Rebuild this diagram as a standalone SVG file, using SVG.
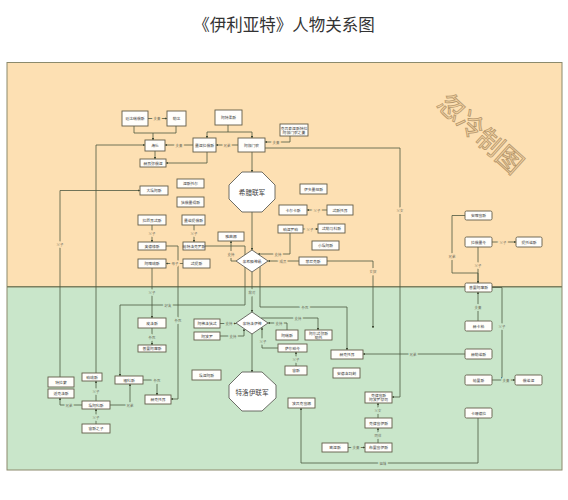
<svg xmlns="http://www.w3.org/2000/svg" width="568" height="500" viewBox="0 0 568 500">
<style>
.n rect{fill:#fffefb;stroke:#625c48;stroke-width:.9}
.n text,.hub text{font-family:"Noto Sans CJK SC","Noto Sans",sans-serif;font-size:3.8px;fill:#3a3a3a;text-anchor:middle;dominant-baseline:central}
.hub polygon{fill:#fff;stroke:#5f5f58;stroke-width:.9}
.big text{font-size:6.6px;fill:#444}
.c path{fill:none;stroke:#4c5840;stroke-width:.8;marker-end:url(#a)}
.c path.na{marker-end:none}
.lb text{font-family:"Noto Sans CJK SC",sans-serif;font-size:3.4px;fill:#6b6b5a;text-anchor:middle;dominant-baseline:central;paint-order:stroke;stroke-width:3px}
.lb .o{stroke:#fde0b3}.lb .g{stroke:#c9e6ca}
</style>
<defs>
<marker id="a" viewBox="0 0 6 6" refX="5.5" refY="3" markerWidth="3.2" markerHeight="3.2" orient="auto"><path d="M0,0 L6,3 L0,6 z" fill="#3f4a35"/></marker>
</defs>
<rect width="568" height="500" fill="#ffffff"/>
<text x="284" y="31" font-family="'Noto Sans CJK SC',sans-serif" font-size="16.5" fill="#333" text-anchor="middle">《伊利亚特》人物关系图</text>
<rect x="7" y="62.5" width="555" height="224" fill="#fde0b3"/>
<rect x="7" y="286.5" width="555" height="183.5" fill="#c9e6ca"/>
<rect x="7" y="62.5" width="555" height="407.5" fill="none" stroke="#8c8a6c" stroke-width="1"/>
<line x1="7" y1="286.7" x2="562" y2="286.7" stroke="#7d7f5e" stroke-width="1.5"/>
<text transform="translate(482,132) rotate(42)" font-family="'Noto Sans CJK SC',sans-serif" font-size="26" text-anchor="middle" dominant-baseline="central" fill="#f4d3a1" stroke="#b4966c" stroke-width=".8">忽冷制图</text>

<g id="connectors" class="c">
<path d="M148,118.5 H167"/>
<path d="M134,126 V133 H153 V140"/>
<path class="na" d="M176,126 V133 H153"/>
<path d="M193,145 H165"/>
<path d="M238,145 H216"/>
<path d="M228,125 V132 H207 V138"/>
<path d="M228,132 H252 V138"/>
<path d="M290,136 V142 H265"/>
<path d="M155,151 V159"/>
<path d="M207,152 V163 H166"/>
<path d="M252,152 V172"/>
<path d="M265,148 H400 V397 H392"/>
<path d="M96,373 V145 H145"/>
<path d="M60,377 V190.5 H140"/>
<path d="M152,225 V242"/>
<path d="M194,225 V242"/>
<path d="M183,263.5 H166"/>
<path d="M152,268 V318"/>
<path d="M152,328 V345"/>
<path d="M205,246 H245 V305 H120 V376"/>
<path d="M166,246 H178 V399 H171"/>
<path d="M143,380 H157 V395"/>
<path d="M252,212 V250"/>
<path d="M236,261 H231 V241"/>
<path d="M299,261 H268"/>
<path d="M327,261 H373 V328"/>
<path d="M290,233 V254 H258"/>
<path d="M303,229 H318"/>
<path d="M327,210 H307"/>
<path d="M252,272 V312"/>
<path d="M260,266 V307 H347 V350"/>
<path d="M261,318 H318 V330"/>
<path d="M287,330 V323 H268"/>
<path d="M278,348 H262 V327.5"/>
<path d="M220,323.5 H236"/>
<path d="M220,336 H244 V329"/>
<path d="M252,334 V372"/>
<path d="M296,366 V352"/>
<path d="M465,354 H363"/>
<path d="M378,418 V403"/>
<path d="M378,443 V428"/>
<path d="M348,447.5 H365"/>
<path d="M478,418 V463 H301 V408"/>
<path d="M96,401 V381"/>
<path d="M96,424 V409"/>
<path d="M82,405 H60 V398"/>
<path d="M110,405 H130 V384"/>
<path d="M465,215.5 H452 V273 H478 V283"/>
<path d="M492,242 H516"/>
<path d="M478,247 V283"/>
<path d="M478,321 V292"/>
<path d="M492,287.5 H502 V379"/>
<path d="M492,380 H515"/>
</g>

<g id="labels" class="lb">
<text class="o" x="157" y="118.5">夫妻</text>
<text class="o" x="179" y="145">夫妻</text>
<text class="o" x="227" y="145">兄弟</text>
<text class="o" x="276" y="142">夫妻</text>
<text class="o" x="400" y="210">父女</text>
<text class="o" x="60" y="244">父子</text>
<text class="o" x="152" y="233">父子</text>
<text class="o" x="194" y="233">父子</text>
<text class="o" x="175" y="263.5">母子</text>
<text class="o" x="231" y="254">支持</text>
<text class="o" x="283" y="261">成员</text>
<text class="o" x="373" y="271">女奴</text>
<text class="o" x="278" y="254">支持</text>
<text class="o" x="310" y="229">父子</text>
<text class="o" x="317" y="210">父子</text>
<text class="g" x="252" y="292">敌对</text>
<text class="g" x="168" y="305">好友</text>
<text class="g" x="178" y="320">杀死</text>
<text class="g" x="152" y="292">父子</text>
<text class="g" x="152" y="337">杀死</text>
<text class="g" x="157" y="380">杀死</text>
<text class="g" x="305" y="307">杀死</text>
<text class="g" x="298" y="318">支持</text>
<text class="g" x="279" y="323">支持</text>
<text class="g" x="263" y="341">父子</text>
<text class="g" x="229" y="323.5">支持</text>
<text class="g" x="233" y="336">支持</text>
<text class="g" x="296" y="359">父子</text>
<text class="g" x="413" y="354">兄弟</text>
<text class="g" x="378" y="410">父女</text>
<text class="g" x="378" y="435">同伴</text>
<text class="g" x="356" y="447.5">夫妻</text>
<text class="g" x="383" y="463">姐妹</text>
<text class="g" x="96" y="391">父子</text>
<text class="g" x="96" y="417">父子</text>
<text class="g" x="69" y="405">兄弟</text>
<text class="g" x="130" y="405">兄弟</text>
<text class="o" x="452" y="256">兄弟</text>
<text class="o" x="503" y="242">父子</text>
<text class="o" x="478" y="265">父子</text>
<text class="g" x="478" y="307">夫妻</text>
<text class="g" x="502" y="326">父子</text>
<text class="g" x="506" y="380">夫妻</text>
</g>

<g id="hub-greek" class="hub big"><polygon points="242,172 262,172 275,185 275,199 262,212 242,212 229,199 229,185"/><text x="252" y="192">希腊联军</text></g>
<g id="hub-troy" class="hub big"><polygon points="242,372 262,372 276,385 276,398 262,411 242,411 229,398 229,385"/><text x="252" y="392">特洛伊联军</text></g>
<g id="dia-1" class="hub"><polygon points="236,261 252,250 268,261 252,272"/><text x="252" y="261">亲希腊神祇</text></g>
<g id="dia-2" class="hub"><polygon points="236,323 252,312 268,323 252,334"/><text x="252" y="323">亲特洛伊神</text></g>

<g id="n-A" class="n"><rect x="122" y="111" width="26" height="15"/><text x="135" y="118.5">廷达瑞俄斯</text></g>
<g id="n-B" class="n"><rect x="167" y="111" width="19" height="15"/><text x="176.5" y="118.5">勒达</text></g>
<g id="n-C" class="n"><rect x="215" y="110" width="27" height="15"/><text x="228.5" y="117.5">阿特柔斯</text></g>
<g id="n-D" class="n"><rect x="280" y="124" width="28" height="12"/><text x="294" y="128">克吕泰涅斯特拉</text><text x="294" y="132.5">阿伽门农之妻</text></g>
<g id="n-E" class="n"><rect x="145" y="140" width="20" height="11"/><text x="155" y="145.5">海伦</text></g>
<g id="n-F" class="n"><rect x="193" y="138" width="23" height="14"/><text x="204.5" y="145">墨涅拉俄斯</text></g>
<g id="n-G" class="n"><rect x="238" y="138" width="27" height="14"/><text x="251.5" y="145">阿伽门农</text></g>
<g id="n-H" class="n"><rect x="140" y="159" width="26" height="8"/><text x="153" y="163">赫耳弥俄涅</text></g>
<g id="n-I" class="n"><rect x="140" y="186" width="28" height="9"/><text x="154" y="190.5">大埃阿斯</text></g>
<g id="n-J" class="n"><rect x="177" y="179" width="27" height="9"/><text x="190.5" y="183.5">涅斯托尔</text></g>
<g id="n-K" class="n"><rect x="177" y="197" width="27" height="10"/><text x="190.5" y="202">狄俄墨得斯</text></g>
<g id="n-L" class="n"><rect x="138" y="215" width="28" height="10"/><text x="152" y="220">拉厄耳忒斯</text></g>
<g id="n-M" class="n"><rect x="182" y="215" width="23" height="10"/><text x="193.5" y="220">墨诺提俄斯</text></g>
<g id="n-N" class="n"><rect x="300" y="184" width="27" height="10"/><text x="313.5" y="189">伊多墨纽斯</text></g>
<g id="n-O" class="n"><rect x="279" y="205" width="28" height="10"/><text x="293" y="210">卡尔卡斯</text></g>
<g id="n-P" class="n"><rect x="327" y="205" width="26" height="10"/><text x="340" y="210">忒斯托耳</text></g>
<g id="n-Q" class="n"><rect x="138" y="242" width="28" height="8"/><text x="152" y="246">奥德修斯</text></g>
<g id="n-R" class="n"><rect x="183" y="242" width="22" height="8"/><text x="194" y="246">帕特洛克罗斯</text></g>
<g id="n-S" class="n"><rect x="138" y="259" width="28" height="9"/><text x="152" y="263.5">阿喀琉斯</text></g>
<g id="n-T" class="n"><rect x="183" y="259" width="27" height="9"/><text x="196.5" y="263.5">忒提斯</text></g>
<g id="n-U" class="n"><rect x="218" y="232" width="26" height="9"/><text x="231" y="236.5">雅典娜</text></g>
<g id="n-pen" class="n"><rect x="278" y="225" width="25" height="8"/><text x="290.5" y="229">珀涅罗珀</text></g>
<g id="n-tel" class="n"><rect x="318" y="224" width="27" height="9"/><text x="331.5" y="228.5">忒勒马科斯</text></g>
<g id="n-aja" class="n"><rect x="312" y="241" width="27" height="9"/><text x="325.5" y="245.5">小埃阿斯</text></g>
<g id="n-pho" class="n"><rect x="299" y="257" width="28" height="8"/><text x="313" y="261">菲尼克斯</text></g>
<g id="n-TT" class="n"><rect x="465" y="211" width="27" height="9" rx="1.5"/><text x="478.5" y="215.5">安喀塞斯</text></g>
<g id="n-UU" class="n"><rect x="465" y="237" width="27" height="10" rx="1.5"/><text x="478.5" y="242">拉俄墨冬</text></g>
<g id="n-VV" class="n"><rect x="516" y="237" width="26" height="10" rx="1.5"/><text x="529" y="242">提托诺斯</text></g>
<g id="n-XX" class="n"><rect x="465" y="283" width="27" height="9" rx="1.5"/><text x="478.5" y="287.5">普里阿摩斯</text></g>
<g id="n-YY" class="n"><rect x="465" y="321" width="27" height="10" rx="1.5"/><text x="478.5" y="326">赫卡柏</text></g>
<g id="n-JJ" class="n"><rect x="465" y="349" width="27" height="10" rx="1.5"/><text x="478.5" y="354">赫勒诺斯</text></g>
<g id="n-RR" class="n"><rect x="465" y="375" width="27" height="10" rx="1.5"/><text x="478.5" y="380">帕里斯</text></g>
<g id="n-SS" class="n"><rect x="515" y="375" width="27" height="10" rx="1.5"/><text x="528.5" y="380">俄诺涅</text></g>
<g id="n-QQ" class="n"><rect x="465" y="408" width="27" height="10" rx="1.5"/><text x="478.5" y="413">卡珊德拉</text></g>
<g id="n-BB" class="n"><rect x="138" y="318" width="28" height="10"/><text x="152" y="323">皮洛斯</text></g>
<g id="n-CC" class="n"><rect x="138" y="345" width="28" height="7"/><text x="152" y="348.5">普里阿摩斯</text></g>
<g id="n-V" class="n"><rect x="194" y="319" width="26" height="9"/><text x="207" y="323.5">阿佛洛狄忒</text></g>
<g id="n-W" class="n"><rect x="194" y="332" width="26" height="8"/><text x="207" y="336">阿波罗</text></g>
<g id="n-HH" class="n"><rect x="276" y="330" width="22" height="10"/><text x="287" y="335">阿瑞斯</text></g>
<g id="n-GG" class="n"><rect x="305" y="330" width="27" height="10"/><text x="318.5" y="333">阿尔忒弥斯</text><text x="318.5" y="337.2">勒托</text></g>
<g id="n-II" class="n"><rect x="278" y="344" width="29" height="8"/><text x="292.5" y="348">萨尔珀冬</text></g>
<g id="n-zeus" class="n"><rect x="285" y="366" width="22" height="9"/><text x="296" y="370.5">宙斯</text></g>
<g id="n-FF" class="n"><rect x="331" y="350" width="32" height="9"/><text x="347" y="354.5">赫克托耳</text></g>
<g id="n-KK" class="n"><rect x="333" y="368" width="27" height="10"/><text x="346.5" y="373">安德洛玛刻</text></g>
<g id="n-LL" class="n"><rect x="365" y="392" width="27" height="11"/><text x="378.5" y="395.3">克律塞斯</text><text x="378.5" y="399.8">阿波罗祭司</text></g>
<g id="n-MM" class="n"><rect x="365" y="418" width="27" height="10"/><text x="378.5" y="423">克律塞伊斯</text></g>
<g id="n-NN" class="n"><rect x="365" y="443" width="27" height="9"/><text x="378.5" y="447.5">布里塞伊斯</text></g>
<g id="n-OO" class="n"><rect x="322" y="443" width="26" height="9"/><text x="335" y="447.5">密涅斯</text></g>
<g id="n-PP" class="n"><rect x="288" y="398" width="27" height="10"/><text x="301.5" y="403">波吕克塞娜</text></g>
<g id="n-EE" class="n"><rect x="192" y="370" width="29" height="10"/><text x="206.5" y="375">埃涅阿斯</text></g>
<g id="n-b1" class="n"><rect x="48" y="377" width="26" height="10"/><text x="61" y="382">特拉蒙</text></g>
<g id="n-b2" class="n"><rect x="48" y="389" width="26" height="9"/><text x="61" y="393.5">透克洛斯</text></g>
<g id="n-X" class="n"><rect x="82" y="373" width="20" height="8"/><text x="92" y="377">珀琉斯</text></g>
<g id="n-Y" class="n"><rect x="82" y="401" width="28" height="8"/><text x="96" y="405">埃阿科斯</text></g>
<g id="n-Z" class="n"><rect x="82" y="424" width="28" height="9"/><text x="96" y="428.5">宙斯之子</text></g>
<g id="n-AA" class="n"><rect x="115" y="376" width="28" height="8"/><text x="129" y="380">福科斯</text></g>
<g id="n-DD" class="n"><rect x="145" y="395" width="26" height="9"/><text x="158" y="399.5">赫克托耳</text></g>
</svg>
